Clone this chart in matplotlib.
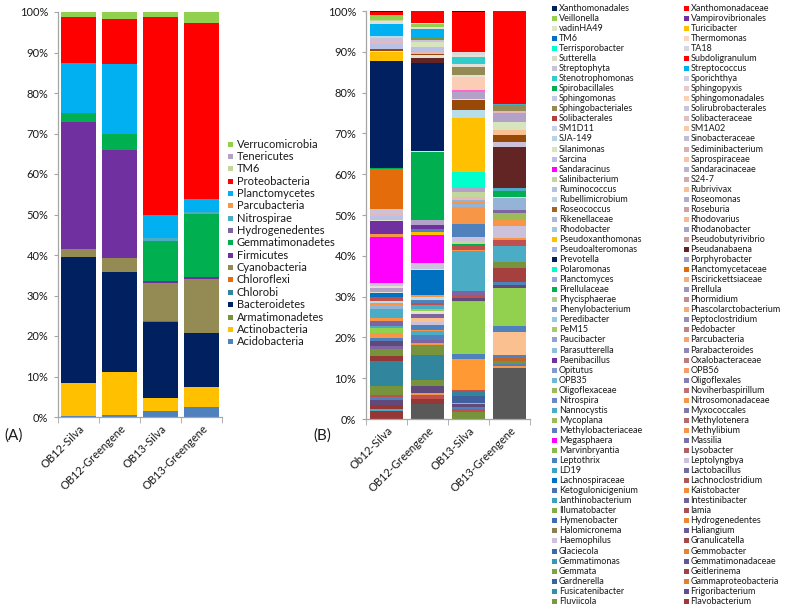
import matplotlib
matplotlib.use("Agg")
import matplotlib.pyplot as plt
import matplotlib.transforms as mtransforms
from matplotlib.patches import Rectangle
import numpy as np

plt.rcParams['font.family'] = ['Lato', 'DejaVu Sans']

# ---------------- data ----------------
samples_a = ["OB12-Silva", "OB12-Greengene", "OB13-Silva", "OB13-Greengene"]
samples_b = ["Ob12-Silva", "OB12-Greengene", "OB13-Silva", "OB13-Greengene"]

# phyla, bottom of stack first
phyla = ["Acidobacteria", "Actinobacteria", "Armatimonadetes", "Bacteroidetes",
         "Chlorobi", "Chloroflexi", "Cyanobacteria", "Firmicutes",
         "Gemmatimonadetes", "Hydrogenedentes", "Nitrospirae", "Parcubacteria",
         "Planctomycetes", "Proteobacteria", "TM6", "Tenericutes", "Verrucomicrobia"]
phyla_colors = ["#4F81BD", "#FFC000", "#77933C", "#002060",
                "#31859C", "#E46C0A", "#948A54", "#7030A0",
                "#00B050", "#8064A2", "#4BACC6", "#F79646",
                "#00B0F0", "#FF0000", "#C3D69B", "#B3A2C7", "#92D050"]

# percent per phylum (same order as phyla)
ob12_silva_a = [0.3, 8.0, 0, 31.1, 0, 0, 2.0, 31.4, 2.3, 0, 0, 0, 12.2, 11.4, 0, 0, 1.3]
ob12_green_a = [0.6, 10.5, 0, 24.8, 0, 0, 3.4, 26.7, 4.0, 0, 0, 0, 17.2, 11.0, 0, 0, 1.8]
ob13_silva_a = [1.6, 3.1, 0, 18.7, 0.3, 0, 9.4, 0.5, 9.9, 0, 0.6, 0, 5.9, 48.8, 0, 0, 1.2]
ob13_green_a = [2.5, 5.0, 0, 13.2, 0, 0, 13.3, 0.5, 15.7, 0, 0.4, 0, 3.2, 43.6, 0, 0, 2.6]

# genus level segments, bottom to top (percent) and their colours
pal = {
    'navy': '#002060', 'red': '#FF0000', 'sky': '#00B0F0', 'gold': '#FFC000',
    'green': '#00B050', 'lgreen': '#92D050', 'purple': '#7030A0', 'magenta': '#FF00FF',
    'orange': '#E46C0A', 'lorange': '#F79646', 'orange2': '#FF9933', 'peach': '#FAC090',
    'lpeach': '#FBCDB4', 'dteal': '#31859C', 'aqua': '#4BACC6', 'steel': '#4F81BD',
    'dsteel': '#3F5F9F', 'lsteel': '#95B3D7', 'dred': '#953735', 'rred': '#C0504D',
    'brick': '#A5403F', 'brown': '#984807', 'khaki': '#948A54', 'olive': '#77933C',
    'oliveL': '#9BBB59', 'lav': '#B3A2C7', 'lavg': '#CCC1DA', 'mauve': '#8064A2',
    'indigo': '#604A7B', 'light': '#E4E1D4', 'lgray': '#D9D9D9', 'sage': '#C3D69B',
    'lsage': '#D7E4BD', 'lblue': '#B7DEE8', 'pink': '#E6B9B8', 'hotpink': '#FF66CC',
    'mint': '#00FFCC', 'cyan': '#33CCCC', 'maroon': '#632523', 'blue': '#0070C0',
    'dgray': '#595959', 'periw': '#B9C2E5', 'bronze': '#C0652A',
}

ob12_silva_b = [2.0, 0.5, 1.0, 1.2, 0.7, 0.5, 2.3, 6.0, 1.3, 1.6,
                0.7, 1.2, 0.8, 1.2, 1.2, 0.65, 1.2, 0.6, 2.3, 1.0,
                0.5, 0.4, 1.0, 1.1, 0.3, 0.8, 0.5, 0.8, 11.3, 0.8,
                3.0, 0.3, 1.0, 0.6, 1.0, 9.9, 0.2, 26.2, 0.2, 2.0,
                0.3, 0.65, 1.0, 0.5, 1.0, 0.6, 3.0, 0.6, 0.4, 1.0,
                0.2, 0.7, 0.2]
ob12_silva_b_col = ['dred', 'aqua', 'dred', 'indigo', 'steel', 'rred', 'olive', 'dteal', 'dred', 'olive',
                    'mauve', 'indigo', 'steel', 'lorange', 'lgreen', 'aqua', 'mauve', 'lorange', 'aqua', 'lsteel',
                    'lorange', 'lblue', 'rred', 'blue', 'light', 'lav', 'light', 'lavg', 'magenta', 'lorange',
                    'purple', 'light', 'periw', 'pink', 'lavg', 'orange', 'green', 'navy', 'light', 'gold',
                    'light', 'brown', 'periw', 'pink', 'lavg', 'lblue', 'sky', 'light', 'sage', 'lgreen',
                    'light', 'red', 'navy']

ob12_green_b = [3.7, 1.3, 1.0, 0.4, 1.6, 1.6, 6.1, 2.5, 0.4, 0.7,
                1.2, 1.0, 0.3, 1.3, 0.7, 1.0, 1.0, 0.6, 0.6, 1.0,
                0.4, 0.8, 0.8, 0.5, 5.9, 0.4, 1.5, 6.8, 0.8, 0.6,
                1.1, 1.2, 16.7, 0.2, 21.6, 1.3, 0.5, 0.4, 0.5, 1.2,
                1.1, 0.7, 0.5, 2.2, 0.3, 0.8, 0.3, 2.9]
ob12_green_b_col = ['dgray', 'dred', 'rred', 'lorange', 'indigo', 'olive', 'dteal', 'olive', 'lorange', 'mauve',
                    'steel', 'aqua', 'lorange', 'steel', 'lavg', 'peach', 'mauve', 'light', 'lgreen', 'aqua',
                    'rred', 'steel', 'lblue', 'lorange', 'blue', 'light', 'lavg', 'magenta', 'gold', 'steel',
                    'purple', 'lav', 'green', 'light', 'navy', 'maroon', 'light', 'brown', 'pink', 'periw',
                    'lsage', 'lavg', 'olive', 'sky', 'light', 'lgreen', 'light', 'red']

ob13_silva_b = [1.8, 0.6, 0.6, 0.6, 0.4, 1.6, 1.2, 0.4, 7.5, 1.3,
                12.7, 0.3, 0.7, 0.8, 0.8, 9.8, 0.4, 1.0, 0.4, 0.7,
                1.1, 3.1, 4.2, 0.6, 0.6, 0.5, 0.6, 1.3, 1.2, 3.7,
                13.2, 2.0, 2.5, 0.2, 1.8, 0.4, 3.3, 0.4, 2.0, 0.6,
                1.8, 0.6, 0.7, 9.75, 0.25]
ob13_silva_b_col = ['olive', 'rred', 'steel', 'indigo', 'lorange', 'dsteel', 'dteal', 'rred', 'orange2', 'steel',
                    'lgreen', 'lorange', 'indigo', 'rred', 'mauve', 'aqua', 'lorange', 'rred', 'green', 'sage',
                    'lavg', 'steel', 'lorange', 'lsteel', 'lorange', 'lsteel', 'pink', 'sage', 'lav', 'mint',
                    'gold', 'lblue', 'brown', 'light', 'lav', 'hotpink', 'lpeach', 'light', 'khaki', 'light',
                    'cyan', 'light', 'lgray', 'red', 'navy']

ob13_green_b = [12.6, 0.4, 0.6, 0.6, 1.1, 0.3, 5.7, 1.4, 9.4, 0.8,
                0.8, 3.3, 1.6, 3.8, 1.5, 0.4, 3.0, 1.5, 1.8, 0.6,
                2.9, 0.4, 1.5, 0.6, 10.0, 1.4, 1.6, 1.2, 2.0, 2.3,
                0.3, 1.6, 0.3, 22.7]
ob13_green_b_col = ['dgray', 'lorange', 'steel', 'olive', 'bronze', 'steel', 'peach', 'steel', 'lgreen', 'indigo',
                    'steel', 'brick', 'olive', 'aqua', 'rred', 'lorange', 'lavg', 'lorange', 'oliveL', 'mauve',
                    'lsteel', 'light', 'green', 'aqua', 'maroon', 'lavg', 'brown', 'peach', 'lsage', 'lav',
                    'pink', 'khaki', 'aqua', 'red']

# legend of panel B (two columns, read row by row)
legend_b_left = ["Xanthomonadales", "Veillonella", "vadinHA49", "TM6", "Terrisporobacter",
                 "Sutterella", "Streptophyta", "Stenotrophomonas", "Spirobacillales", "Sphingomonas",
                 "Sphingobacteriales", "Solibacterales", "SM1D11", "SJA-149", "Silanimonas",
                 "Sarcina", "Sandaracinus", "Salinibacterium", "Ruminococcus", "Rubellimicrobium",
                 "Roseococcus", "Rikenellaceae", "Rhodobacter", "Pseudoxanthomonas", "Pseudoalteromonas",
                 "Prevotella", "Polaromonas", "Planctomyces", "Pirellulaceae", "Phycisphaerae",
                 "Phenylobacterium", "Peredibacter", "PeM15", "Paucibacter", "Parasutterella",
                 "Paenibacillus", "Opitutus", "OPB35", "Oligoflexaceae", "Nitrospira",
                 "Nannocystis", "Mycoplana", "Methylobacteriaceae", "Megasphaera", "Marvinbryantia",
                 "Leptothrix", "LD19", "Lachnospiraceae", "Ketogulonicigenium", "Janthinobacterium",
                 "Illumatobacter", "Hymenobacter", "Halomicronema", "Haemophilus", "Glaciecola",
                 "Gemmatimonas", "Gemmata", "Gardnerella", "Fusicatenibacter", "Fluviicola"]
legend_b_left_col = ["#002060", "#92D050", "#DDE8CB", "#0070C0", "#00FFCC",
                     "#DDD9C3", "#CCC1DA", "#33CCCC", "#00B050", "#C5C8E0",
                     "#948A54", "#B04040", "#C6D0E8", "#B7D3E6", "#D7E4BD",
                     "#B9C2E5", "#FF00FF", "#C3D69B", "#B4C1E0", "#B7D3E6",
                     "#A0632A", "#A9B8DC", "#A5C8D8", "#FFC000", "#A5B4DC",
                     "#002060", "#00FFCC", "#95A8D8", "#00B050", "#B5CC8E",
                     "#8EA3D5", "#93CDDD", "#A9C96A", "#8EA3D5", "#8CC0DA",
                     "#7030A0", "#8497CF", "#70B8D0", "#9BBB59", "#6A87C6",
                     "#4BACC6", "#9BBB59", "#5B7DC0", "#FF00FF", "#8DB84A",
                     "#4F81BD", "#3BA4C0", "#0070C0", "#4A72B0", "#3CA0BE",
                     "#86AC48", "#3F6DB0", "#8A7F50", "#CCC1DA", "#3D68A8",
                     "#3698B5", "#7EA440", "#3A62A0", "#3190AA", "#779B3C"]
legend_b_right = ["Xanthomonadaceae", "Vampirovibrionales", "Turicibacter", "Thermomonas", "TA18",
                  "Subdoligranulum", "Streptococcus", "Sporichthya", "Sphingopyxis", "Sphingomonadales",
                  "Solirubrobacterales", "Solibacteraceae", "SM1A02", "Sinobacteraceae", "Sediminibacterium",
                  "Saprospiraceae", "Sandaracinaceae", "S24-7", "Rubrivivax", "Roseomonas",
                  "Roseburia", "Rhodovarius", "Rhodanobacter", "Pseudobutyrivibrio", "Pseudanabaena",
                  "Porphyrobacter", "Planctomycetaceae", "Piscirickettsiaceae", "Pirellula", "Phormidium",
                  "Phascolarctobacterium", "Peptoclostridium", "Pedobacter", "Parcubacteria", "Parabacteroides",
                  "Oxalobacteraceae", "OPB56", "Oligoflexales", "Noviherbaspirillum", "Nitrosomonadaceae",
                  "Myxococcales", "Methylotenera", "Methylibium", "Massilia", "Lysobacter",
                  "Leptolyngbya", "Lactobacillus", "Lachnoclostridium", "Kaistobacter", "Intestinibacter",
                  "Iamia", "Hydrogenedentes", "Haliangium", "Granulicatella", "Gemmobacter",
                  "Gemmatimonadaceae", "Geitlerinema", "Gammaproteobacteria", "Frigoribacterium", "Flavobacterium"]
legend_b_right_col = ["#FF0000", "#7030A0", "#FFC000", "#FCD5C0", "#D9D5E5",
                      "#FF0000", "#00B0F0", "#D0CEDF", "#E9C9CC", "#FBD0B5",
                      "#C8C5DB", "#E0BEC2", "#FAC9AC", "#C0BCD6", "#D8B0B4",
                      "#F9C3A3", "#B8B4D2", "#D4A8AC", "#F9BD99", "#B0ACCD",
                      "#CFA0A4", "#F8B790", "#A8A3C8", "#CB989C", "#632523",
                      "#A09BC4", "#E36C09", "#F7AB80", "#9A94BF", "#C68A8E",
                      "#F7A878", "#948DBA", "#C28186", "#F7A270", "#8E86B6",
                      "#BE7A7E", "#F79C68", "#877FB1", "#BA7276", "#F79646",
                      "#8078AD", "#B66A6E", "#F79646", "#7A71A8", "#B25F63",
                      "#CCC1DA", "#746AA4", "#AE575B", "#F08C3C", "#6E63A0",
                      "#AA4F53", "#EB8838", "#685C9C", "#A6474B", "#E58434",
                      "#625598", "#A24043", "#E08030", "#5C4E94", "#9E383B"]

# ---------------- figure ----------------
W, H = 785, 611
fig = plt.figure(figsize=(W / 100, H / 100), dpi=100)
axis_grey = "#A6A6A6"
text_col = "#1A1A1A"


def px_axes(left, top, right, bottom):
    return fig.add_axes([left / W, 1 - bottom / H, (right - left) / W, (bottom - top) / H])


def style_axes(ax, labels):
    ax.set_xlim(-0.5, 3.5)
    ax.set_ylim(0, 100)
    ax.set_yticks(np.arange(0, 101, 10))
    ax.set_yticklabels(["%d%%" % v for v in range(0, 101, 10)])
    for s in ["top", "right"]:
        ax.spines[s].set_visible(False)
    for s in ["left", "bottom"]:
        ax.spines[s].set_color(axis_grey)
        ax.spines[s].set_linewidth(0.9)
    ax.tick_params(axis="y", length=3, color=axis_grey, labelsize=8, pad=4, labelcolor=text_col)
    ax.set_xticks(range(4))
    ax.set_xticklabels(labels, rotation=45, ha="right", fontsize=8, color=text_col)
    ax.tick_params(axis="x", which="major", length=0, pad=4)
    ax.set_xticks([-0.5, 0.5, 1.5, 2.5, 3.5], minor=True)
    ax.tick_params(axis="x", which="minor", length=4, color=axis_grey)
    # nudge rotated labels to the right like the original
    shift = mtransforms.ScaledTranslation(0.08, 0, fig.dpi_scale_trans)
    for lab in ax.get_xticklabels():
        lab.set_transform(lab.get_transform() + shift)


# panel A: phylum level
axA = px_axes(58, 12, 222, 417)
x = np.arange(4)
bottom = np.zeros(4)
a_table = np.array([ob12_silva_a, ob12_green_a, ob13_silva_a, ob13_green_a])
for i, name in enumerate(phyla):
    vals = a_table[:, i]
    axA.bar(x, vals, 0.83, bottom=bottom, color=phyla_colors[i], linewidth=0, label=name)
    bottom += vals
style_axes(axA, samples_a)

# panel B: genus level
axB = px_axes(366, 11, 530, 419)
b_vals = [ob12_silva_b, ob12_green_b, ob13_silva_b, ob13_green_b]
b_cols = [ob12_silva_b_col, ob12_green_b_col, ob13_silva_b_col, ob13_green_b_col]
for i in range(4):
    v = np.array(b_vals[i])
    bot = np.concatenate([[0], np.cumsum(v)[:-1]])
    axB.bar(np.full(len(v), i), v, 0.82, bottom=bot,
            color=[pal[c] for c in b_cols[i]], linewidth=0)
style_axes(axB, samples_b)


def draw_legend(labels, colors, sq_x, txt_x, y0, dy, fs, sq):
    for i, (lab, col) in enumerate(zip(labels, colors)):
        yc = y0 + i * dy
        fig.patches.append(Rectangle((sq_x / W, 1 - (yc + sq / 2) / H), sq / W, sq / H,
                                     transform=fig.transFigure, facecolor=col, edgecolor="none"))
        fig.text(txt_x / W, 1 - yc / H, lab, fontsize=fs, va="center", ha="left", color=text_col)


draw_legend(phyla[::-1], phyla_colors[::-1], 227.5, 236.5, 144, 12.36, 8, 5)
draw_legend(legend_b_left, legend_b_left_col, 552, 559, 8.3, 10.05, 6.5, 5)
draw_legend(legend_b_right, legend_b_right_col, 684, 690.5, 8.3, 10.05, 6.5, 5)

fig.text(4 / W, 1 - 436 / H, "(A)", fontsize=11, va="center", ha="left", color=text_col)
fig.text(313 / W, 1 - 436 / H, "(B)", fontsize=11, va="center", ha="left", color=text_col)

fig.savefig("out.png", dpi=100)
